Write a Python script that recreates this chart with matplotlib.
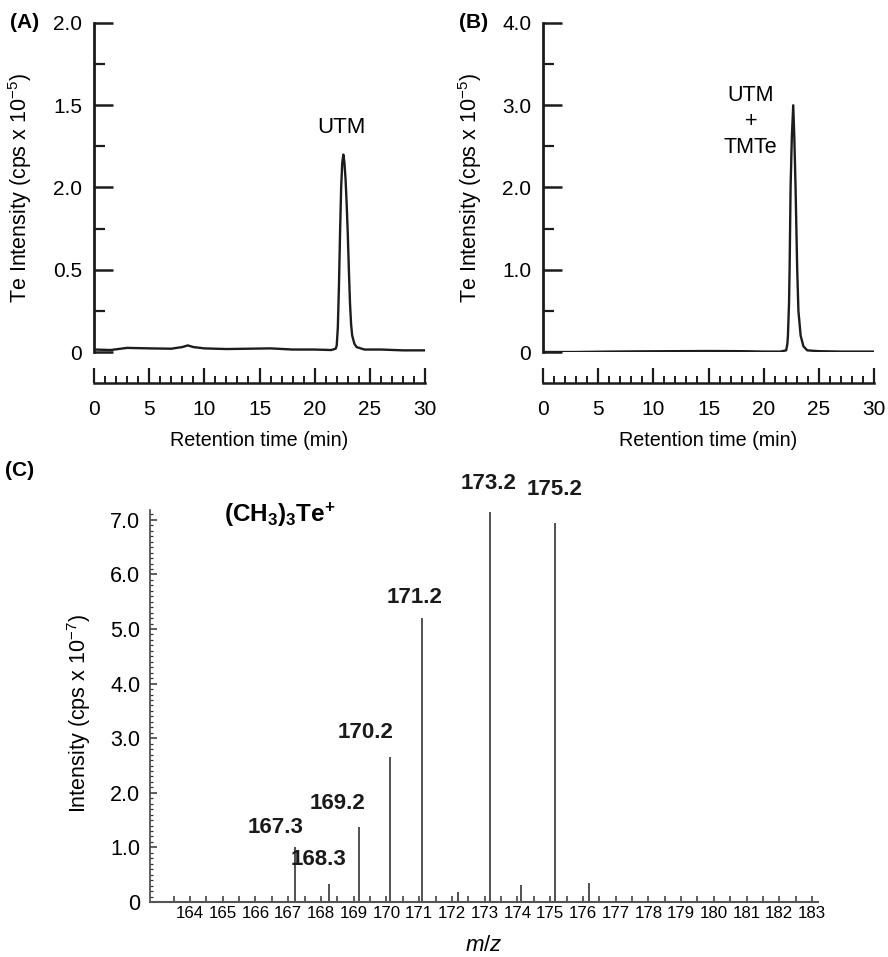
import numpy as np
import matplotlib
matplotlib.use("Agg")
import matplotlib.pyplot as plt
from matplotlib.ticker import MultipleLocator, FixedLocator

plt.rcParams['font.family'] = ['Liberation Sans', 'DejaVu Sans']
plt.rcParams['mathtext.fontset'] = 'custom'
plt.rcParams['mathtext.rm'] = 'Liberation Sans'
plt.rcParams['mathtext.it'] = 'Liberation Sans:italic'
plt.rcParams['mathtext.bf'] = 'Liberation Sans:bold'

# ---------------- data ----------------
# Panel A chromatogram (retention time, intensity on true axis scale 0-2)
time_a = [0, 1.5, 3, 5, 7, 8, 8.5, 9, 10, 12, 14, 16, 18, 20, 21.5, 21.9, 22.0,
          22.1, 22.2, 22.3, 22.4, 22.5, 22.6, 22.7, 22.8, 22.9, 23.0, 23.1, 23.2,
          23.3, 23.4, 23.6, 23.8, 24.5, 26, 28, 30]
int_a = [0.015, 0.012, 0.025, 0.022, 0.02, 0.03, 0.04, 0.03, 0.022, 0.018, 0.02,
         0.022, 0.015, 0.015, 0.012, 0.02, 0.04, 0.15, 0.4, 0.72, 1.0, 1.15, 1.2,
         1.15, 1.05, 0.9, 0.72, 0.5, 0.3, 0.17, 0.1, 0.05, 0.03, 0.015, 0.015,
         0.01, 0.01]
yticks_a = [0, 0.5, 1.0, 1.5, 2.0]
yticklabels_a = ["0", "0.5", "2.0", "1.5", "2.0"]

# Panel B chromatogram
time_b = [0, 3, 6, 9, 12, 15, 18, 20, 21.5, 22.04, 22.15, 22.2, 22.3, 22.35,
          22.44, 22.55, 22.68, 22.78, 22.89, 23.04, 23.15, 23.35, 23.6, 23.95,
          25, 27, 30]
int_b = [0.0, 0.0, 0.005, 0.008, 0.01, 0.012, 0.01, 0.005, 0.005, 0.02, 0.1, 0.2,
         0.6, 1.0, 2.0, 2.6, 3.0, 2.6, 2.0, 1.0, 0.5, 0.2, 0.07, 0.02, 0.01,
         0.005, 0.005]
yticks_b = [0, 1.0, 2.0, 3.0, 4.0]
yticklabels_b = ["0", "1.0", "2.0", "3.0", "4.0"]

xticks_rt = [0, 5, 10, 15, 20, 25, 30]

# Panel C mass spectrum
mz = [167.2, 168.25, 169.15, 170.1, 171.1, 172.2, 173.15, 174.1, 175.15, 176.2]
ms_int = [1.0, 0.33, 1.37, 2.66, 5.2, 0.18, 7.15, 0.31, 6.95, 0.35]
peak_labels = ["167.3", "168.3", "169.2", "170.2", "171.2", "173.2", "175.2"]
peak_label_xy = [(166.6, 1.37), (167.94, 0.77), (168.52, 1.81), (169.35, 3.10),
                 (170.87, 5.57), (173.13, 7.66), (175.15, 7.55)]
mz_ticks = list(range(164, 184))
yticks_c = [0, 1, 2, 3, 4, 5, 6, 7]
yticklabels_c = ["0", "1.0", "2.0", "3.0", "4.0", "5.0", "6.0", "7.0"]

# ---------------- figure ----------------
W, H = 888, 957
fig = plt.figure(figsize=(W / 100, H / 100), dpi=100)


def fr(x0, y_top, w, h):
    return [x0 / W, 1 - (y_top + h) / H, w / W, h / H]


LC = '#1c1c1c'


def chrom(ax, t, y, ymax, yt, ytl, minor_y, ylab_x):
    ax.plot(t, y, color=LC, lw=1.7, solid_joinstyle='round')
    ax.set_xlim(0, 30)
    ax.set_ylim(0, ymax)
    for s in ['top', 'right']:
        ax.spines[s].set_visible(False)
    ax.spines['left'].set_linewidth(2.0)
    ax.spines['left'].set_color(LC)
    ax.spines['bottom'].set_position(('outward', 22))
    ax.spines['bottom'].set_linewidth(1.8)
    ax.spines['bottom'].set_color(LC)
    ax.set_xticks(xticks_rt)
    ax.xaxis.set_minor_locator(MultipleLocator(1))
    ax.set_yticks(yt)
    ax.set_yticklabels(ytl)
    ax.yaxis.set_minor_locator(MultipleLocator(minor_y))
    ax.tick_params(axis='x', which='major', direction='in', length=11, width=1.6,
                   color=LC, labelsize=15, pad=12.5)
    ax.tick_params(axis='x', which='minor', direction='in', length=5, width=1.4, color=LC)
    ax.tick_params(axis='y', which='major', direction='in', length=14, width=1.8,
                   color=LC, labelsize=15, pad=8.5)
    ax.tick_params(axis='y', which='minor', direction='in', length=8, width=1.6, color=LC)
    ax.set_xlabel("Retention time (min)", fontsize=14.2, labelpad=8.5)
    ax.set_ylabel(r"Te Intensity (cps x 10$^{-5}$)", fontsize=15.5)
    ax.yaxis.set_label_coords(ylab_x, 0.5)
    ax.patch.set_alpha(0)


axA = fig.add_axes(fr(94, 23, 331, 329))
chrom(axA, time_a, int_a, 2.0, yticks_a, yticklabels_a, 0.25, -0.182)
axA.text(22.46, 1.363, "UTM", ha='center', va='center', fontsize=16)

axB = fig.add_axes(fr(543, 23, 331, 329))
chrom(axB, time_b, int_b, 4.0, yticks_b, yticklabels_b, 0.5, -0.178)
axB.text(18.83, 2.80, "UTM\n+\nTMTe", ha='center', va='center', fontsize=15.5,
         linespacing=1.32)

fig.text(25 / W, 1 - 22 / H, "(A)", fontsize=15, fontweight='bold', ha='center', va='center')
fig.text(474 / W, 1 - 22 / H, "(B)", fontsize=15, fontweight='bold', ha='center', va='center')
fig.text(20 / W, 1 - 470 / H, "(C)", fontsize=15, fontweight='bold', ha='center', va='center')

# Panel C
axC = fig.add_axes(fr(150, 510, 668, 392))
axC.vlines(mz, 0, ms_int, color='#222222', lw=1.1)
axC.set_xlim(162.78, 183.18)
axC.set_ylim(0, 7.18)
for s in ['top', 'right']:
    axC.spines[s].set_visible(False)
axC.spines['left'].set_color('#444444')
axC.spines['left'].set_linewidth(1.2)
axC.spines['bottom'].set_color('#555555')
axC.spines['bottom'].set_linewidth(1.5)
axC.set_xticks(mz_ticks)
axC.set_xticklabels([str(v) for v in mz_ticks])
axC.xaxis.set_minor_locator(FixedLocator([v + 0.5 for v in range(163, 183)]))
axC.set_yticks(yticks_c)
axC.set_yticklabels(yticklabels_c)
axC.yaxis.set_minor_locator(MultipleLocator(0.1))
axC.tick_params(axis='x', which='both', direction='in', length=4, width=1.1,
                color='#333333', labelsize=12.2, pad=3)
axC.tick_params(axis='y', which='major', direction='in', length=5, width=1.1,
                color='#333333', labelsize=15.5, pad=7)
axC.tick_params(axis='y', which='minor', direction='in', length=2.5, width=0.9,
                color='#333333')
for lab, (x, y) in zip(peak_labels, peak_label_xy):
    axC.text(x, y, lab, ha='center', va='center', fontsize=16, fontweight='bold',
             color='#1a1a1a')
axC.text(166.75, 7.1, r"$\mathbf{(CH_3)_3Te^{+}}$", ha='center', va='center', fontsize=17.5)
axC.set_xlabel(r"$\it{m/z}$", fontsize=16, labelpad=10)
axC.set_ylabel(r"Intensity (cps x 10$^{-7}$)", fontsize=15.5)
axC.yaxis.set_label_coords(-0.085, 0.48)

fig.savefig("out.png", dpi=100)
